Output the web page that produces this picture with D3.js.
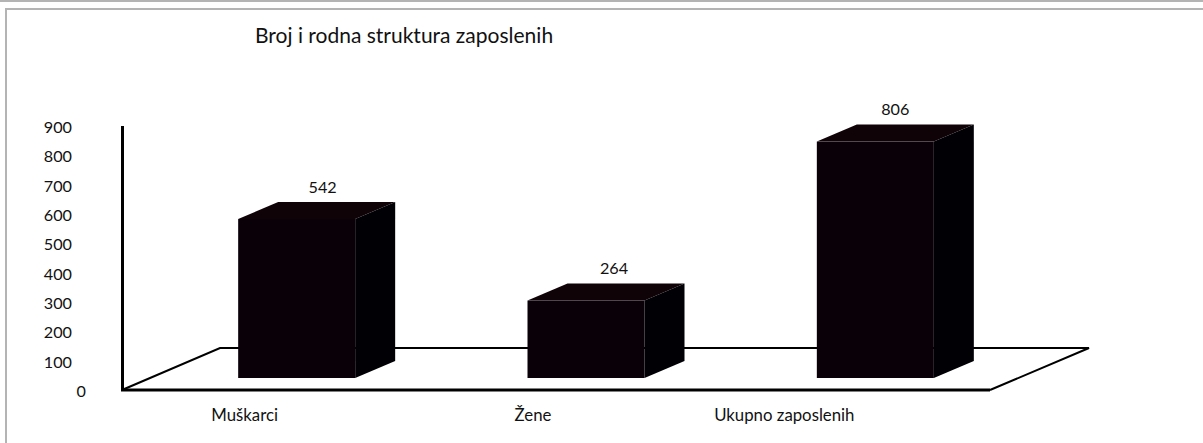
<!DOCTYPE html>
<html>
<head>
<meta charset="utf-8">
<script src="https://cdn.jsdelivr.net/npm/d3@7"></script>
<style>
  html, body { margin: 0; background: #fff; }
  text { font-family: Lato, "Open Sans", sans-serif; fill: #111; }
</style>
</head>
<body>
<svg id="chart"></svg>
<script>
const categories = ["Muškarci", "Žene", "Ukupno zaposlenih"];
const values = [542, 264, 806];
const yTicks = [0, 100, 200, 300, 400, 500, 600, 700, 800, 900];
const title = "Broj i rodna struktura zaposlenih";

const width = 1203;
const height = 443;

// pseudo 3d: how far the floor and the bars recede
const floorDepth = [98, -42];
const barDepth = [40, -17];
const barGap = 12; // bars stand this far above the front floor edge
const barShift = 30;
const labelShift = [-22, -23, -61];
const valueShift = [26, 28, 20];

const svg = d3.select("#chart")
  .attr("width", width)
  .attr("height", height)
  .style("display", "block");

// page strip and chart frame (top and left only, the rest is cropped away)
svg.append("rect").attr("x", 0).attr("y", 0).attr("width", width).attr("height", 2).attr("fill", "#b4b4b4");
svg.append("path")
  .attr("d", d3.line()([[6, height], [6, 9], [width, 9]]))
  .attr("fill", "none")
  .attr("stroke", "#b4b4b4")
  .attr("stroke-width", 2);

const x = d3.scaleBand().domain(categories).range([122, 990]);
const y = d3.scaleLinear().domain([0, 900]).range([390, 126]);
const barWidth = 117;

svg.append("text")
  .attr("x", 255).attr("y", 43)
  .attr("font-size", 21)
  .text(title);

// floor
const floor = d3.path();
floor.moveTo(x.range()[0], y(0));
floor.lineTo(x.range()[0] + floorDepth[0], y(0) + floorDepth[1]);
floor.lineTo(x.range()[1] + floorDepth[0] + 1, y(0) + floorDepth[1]);
floor.lineTo(x.range()[1], y(0));
svg.append("path")
  .attr("d", floor)
  .attr("fill", "none")
  .attr("stroke", "#000")
  .attr("stroke-width", 2);

// y axis, tick labels only; the line is drawn separately so it can be heavier
const yAxis = svg.append("g")
  .attr("transform", "translate(81,0)")
  .call(d3.axisLeft(y).tickValues(yTicks).tickSize(0).tickPadding(9));
yAxis.select(".domain").remove();
yAxis.selectAll("text")
  .attr("font-size", 16.2)
  .attr("dx", d => d === 0 ? 14 : 0)
  .attr("dy", "0.4em");

svg.append("path")
  .attr("d", d3.line()([[122.5, y(900)], [122.5, y(0)], [x.range()[1], y(0)]]))
  .attr("fill", "none")
  .attr("stroke", "#000")
  .attr("stroke-width", 3);

// bars
const rows = categories.map((c, i) => ({ c, v: values[i], i }));
const bar = svg.append("g").selectAll("g").data(rows).join("g");

const left = d => x(d.c) + x.bandwidth() / 2 + barShift - barWidth / 2;
const base = y(0) - barGap;
const barTop = d => base - (y(0) - y(d.v));

bar.append("path")
  .attr("fill", "#100308")
  .attr("d", d => d3.line()([
    [left(d), barTop(d)],
    [left(d) + barDepth[0], barTop(d) + barDepth[1]],
    [left(d) + barWidth + barDepth[0], barTop(d) + barDepth[1]],
    [left(d) + barWidth, barTop(d)]
  ]) + "Z");

bar.append("path")
  .attr("fill", "#000005")
  .attr("d", d => d3.line()([
    [left(d) + barWidth, barTop(d)],
    [left(d) + barWidth + barDepth[0], barTop(d) + barDepth[1]],
    [left(d) + barWidth + barDepth[0], base + barDepth[1]],
    [left(d) + barWidth, base]
  ]) + "Z");

bar.append("rect")
  .attr("x", left)
  .attr("y", barTop)
  .attr("width", barWidth)
  .attr("height", d => base - barTop(d))
  .attr("fill", "#0a0008");

bar.append("text")
  .attr("x", d => left(d) + barWidth / 2 + valueShift[d.i])
  .attr("y", d => barTop(d) - 26.5)
  .attr("text-anchor", "middle")
  .attr("font-size", 16.2)
  .text(d => d.v);

// category labels
svg.append("g").selectAll("text").data(rows).join("text")
  .attr("x", d => x(d.c) + x.bandwidth() / 2 + labelShift[d.i])
  .attr("y", 421)
  .attr("text-anchor", "middle")
  .attr("font-size", 16.8)
  .text(d => d.c);
</script>
</body>
</html>
